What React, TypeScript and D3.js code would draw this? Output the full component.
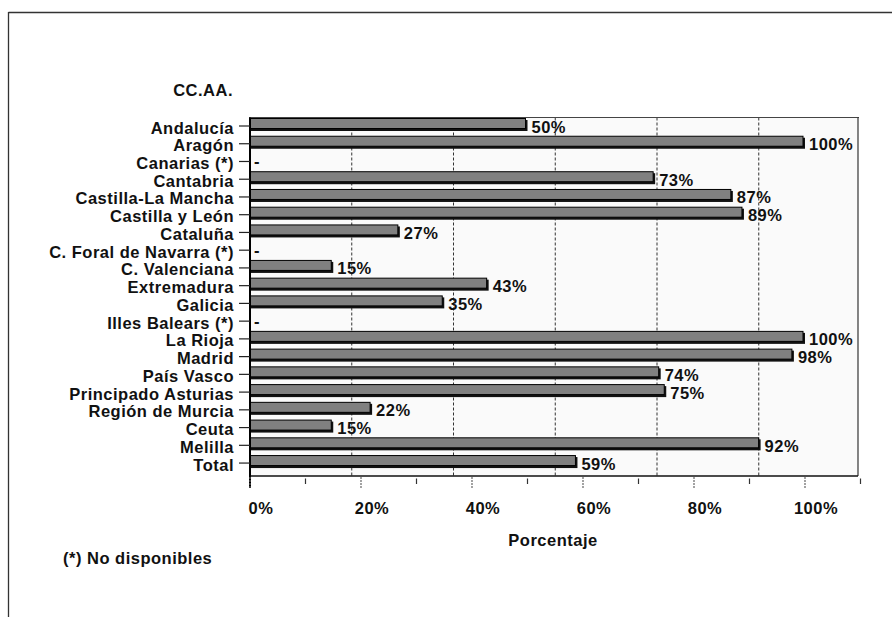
import * as React from 'react'
import * as d3 from 'd3'

const regions = [
  'Andalucía', 'Aragón', 'Canarias (*)', 'Cantabria', 'Castilla-La Mancha',
  'Castilla y León', 'Cataluña', 'C. Foral de Navarra (*)', 'C. Valenciana',
  'Extremadura', 'Galicia', 'Illes Balears (*)', 'La Rioja', 'Madrid',
  'País Vasco', 'Principado Asturias', 'Región de Murcia', 'Ceuta', 'Melilla', 'Total',
]
const porcentajes: (number | null)[] = [
  50, 100, null, 73, 87, 89, 27, null, 15, 43, 35, null, 100, 98, 74, 75, 22, 15, 92, 59,
]
const tickValues = [0, 10, 20, 30, 40, 50, 60, 70, 80, 90, 100, 110]
const labelTicks = [0, 20, 40, 60, 80, 100]

const W = 893
const H = 617
const font = '"Liberation Sans", Arial, sans-serif'

const App = () => {
  const plot = {left: 249, right: 858, top: 117.5, bottom: 476}

  const x = d3.scaleLinear().domain([0, 110]).range([250, 860.5])
  const grid = d3.scaleLinear().domain([0, 6]).range([x(0), x(110)])
  const y = d3.scaleBand().domain(regions).range([118, 118 + regions.length * 17.74]).padding(0)

  const barH = 12.5
  const textStyle = {fontFamily: font, fontWeight: 700, fontSize: 16.5, letterSpacing: 0.5, fill: '#111'}

  return (
    <svg width={W} height={H} style={{position: 'absolute', left: 0, top: 0, background: '#fff'}}>
      {/* outer frame */}
      <line x1={8.5} x2={892} y1={12.5} y2={12.5} stroke="#333" strokeWidth={1.3} />
      <line x1={8.5} x2={8.5} y1={12} y2={H} stroke="#333" strokeWidth={1.3} />

      {/* plot area */}
      <rect x={plot.left} y={plot.top} width={plot.right - plot.left} height={plot.bottom - plot.top} fill="#fafafa" />
      {d3.range(1, 6).map((k) => (
        <line key={k} x1={grid(k)} x2={grid(k)} y1={plot.top} y2={plot.bottom}
          stroke="#333" strokeWidth={1} strokeDasharray="3,2" />
      ))}
      <line x1={plot.left} x2={plot.right + 1} y1={plot.top} y2={plot.top} stroke="#444" strokeWidth={1.2} />
      <line x1={plot.right} x2={plot.right} y1={plot.top} y2={plot.bottom} stroke="#333" strokeWidth={1.2} />
      <line x1={plot.left} x2={plot.right} y1={plot.bottom} y2={plot.bottom} stroke="#111" strokeWidth={1.3} />

      {/* bars */}
      {regions.map((r, i) => {
        const v = porcentajes[i]
        const top = y(r) as number
        if (v === null) {
          return (
            <text key={r} x={x(0) + 4} y={top + 14} style={textStyle}>-</text>
          )
        }
        const w = x(v) - x(0)
        return (
          <g key={r}>
            <rect x={x(0)} y={top + 2} width={w} height={barH - 1.5} fill="#111" />
            <rect x={x(0)} y={top + 0.5} width={w - 2} height={barH - 2.5} fill="#808080" stroke="#000" strokeWidth={1} />
            <text x={x(v) + 4} y={top + 14.5} style={textStyle}>{v}%</text>
          </g>
        )
      })}

      {/* left axis */}
      <line x1={x(0)} x2={x(0)} y1={plot.top} y2={plot.bottom + 12} stroke="#000" strokeWidth={2} />
      {regions.map((r) => {
        const top = y(r) as number
        return (
          <g key={r}>
            <line x1={239} x2={x(0)} y1={top + 8} y2={top + 8} stroke="#222" strokeWidth={1.2} />
            <text x={234} y={top + 15.5} textAnchor="end" style={textStyle}>{r}</text>
          </g>
        )
      })}

      {/* bottom axis */}
      {tickValues.map((t) => {
        const major = t % 20 === 0
        return (
          <line key={t} x1={x(t)} x2={x(t)} y1={major ? 477 : 478.5} y2={major ? 489 : 484}
            stroke={major ? '#666' : '#333'} strokeWidth={1.2} strokeDasharray={major ? '2,1' : undefined} />
        )
      })}
      {labelTicks.map((t) => (
        <text key={t} x={x(t) + 11} y={514} textAnchor="middle" style={textStyle}>{t}%</text>
      ))}

      <text x={233} y={95.5} textAnchor="end" style={textStyle}>CC.AA.</text>
      <text x={553} y={546} textAnchor="middle" style={textStyle}>Porcentaje</text>
      <text x={63} y={564} style={textStyle}>(*) No disponibles</text>
    </svg>
  )
}

export default App
